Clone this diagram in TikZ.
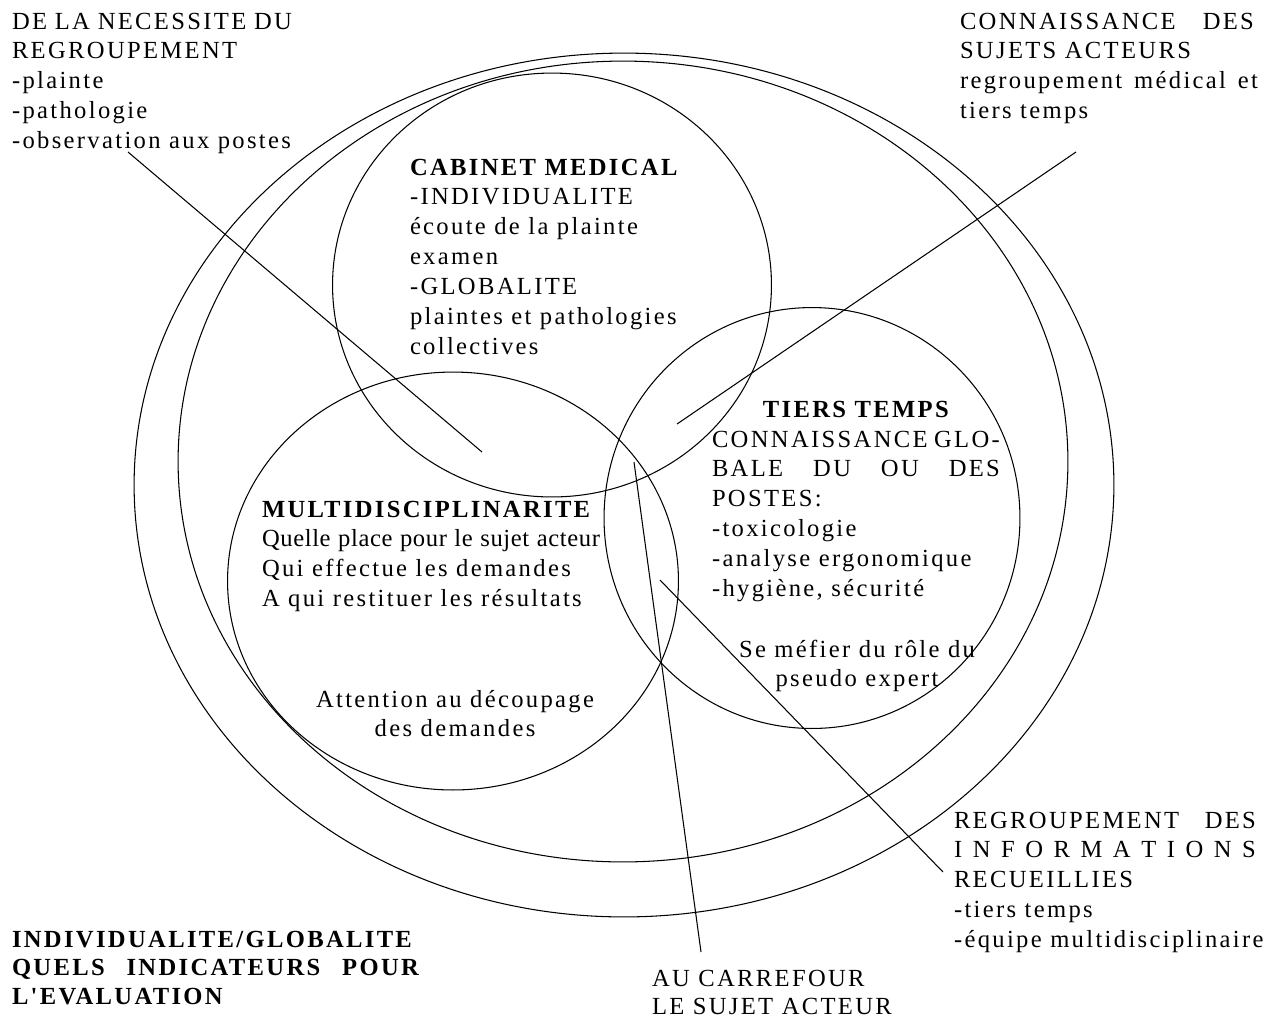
\documentclass[tikz,border=0pt]{standalone}
\usepackage{fontspec}
\setmainfont{Liberation Serif}[LetterSpace=9.5, Ligatures=TeXOff]
\newfontfamily\tightls{Liberation Serif}[LetterSpace=2.5, Ligatures=TeXOff]
\usetikzlibrary{shapes.geometric}
\newcommand\jl[2]{\makebox[#1][s]{#2}}
\begin{document}
\begin{tikzpicture}[x=0.02cm,y=-0.02cm,
  ring/.style={draw, ellipse, inner sep=0pt, outer sep=0pt, line width=0.6pt},
  txt/.style={inner sep=0pt, outer sep=0pt, font=\fontsize{14}{17}\selectfont},
  link/.style={line width=0.6pt}]
\useasboundingbox (0,0) rectangle (1268,1019);
% circles
\node[ring, minimum width=19.6cm, minimum height=17.28cm] (outer) at (624,485) {};
\node[ring, minimum width=17.8cm, minimum height=16.02cm] (inner) at (623,461.5) {};
\node[ring, minimum width=8.78cm, minimum height=8.48cm] (cab) at (552,285) {};
\node[ring, minimum width=9.02cm, minimum height=8.36cm] (multi) at (453,581) {};
\node[ring, minimum width=8.32cm, minimum height=8.42cm] (tiers) at (812,518) {};
% texts
\node[txt, anchor=base west] (necessite) at (12,29) {\parbox[t]{6cm}{\jl{5.6cm}{DE LA NECESSITE DU}\\REGROUPEMENT\\-plainte\\-pathologie\\-observation aux postes}};
\node[txt, anchor=base west] (connaiss) at (960,29) {\parbox[t]{6.1cm}{\jl{5.88cm}{CONNAISSANCE DES}\\SUJETS ACTEURS\\\jl{5.96cm}{regroupement médical et}\\tiers temps}};
\node[txt, anchor=base west] (cabinet) at (410,175) {\parbox[t]{6cm}{\textbf{CABINET MEDICAL}\\-INDIVIDUALITE\\écoute de la plainte\\examen\\-GLOBALITE\\plaintes et pathologies\\collectives}};
\node[txt, anchor=base] (tierstitle) at (857,417) {\textbf{TIERS TEMPS}};
\node[txt, anchor=base west] (tiersbody) at (712,447) {\parbox[t]{6cm}{\jl{5.76cm}{CONNAISSANCE GLO-}\\\jl{5.76cm}{BALE DU OU DES}\\POSTES:\\-toxicologie\\-analyse ergonomique\\-hygiène, sécurité}};
\node[txt, anchor=base] (pseudo) at (857,657) {\parbox[t]{6cm}{\centering Se méfier du rôle du\\pseudo expert}};
\node[txt, anchor=base west] (multitext) at (262,517) {\parbox[t]{7cm}{\textbf{MULTIDISCIPLINARITE}\\{\tightls\jl{6.76cm}{Quelle place pour le sujet acteur}}\\Qui effectue les demandes\\A qui restituer les résultats}};
\node[txt, anchor=base] (attention) at (455,707) {\parbox[t]{6cm}{\centering Attention au découpage\\des demandes}};
\node[txt, anchor=base west] (regroup) at (954,828) {\parbox[t]{6.3cm}{\jl{6.04cm}{REGROUPEMENT DES}\\\jl{6.04cm}{I N F O R M A T I O N S}\\RECUEILLIES\\-tiers temps\\-équipe multidisciplinaire}};
\node[txt, anchor=base west, font=\fontsize{14}{16.4}\selectfont\bfseries] (indiv) at (12,947) {\parbox[t]{9cm}{INDIVIDUALITE/GLOBALITE\\\jl{8.14cm}{QUELS INDICATEURS POUR}\\L'EVALUATION}};
\node[txt, anchor=base west, font=\fontsize{14}{16.4}\selectfont] (carrefour) at (652,986) {\parbox[t]{6cm}{AU CARREFOUR\\LE SUJET ACTEUR}};
% connectors
\coordinate (a1) at (128,152); \coordinate (a2) at (482,452);
\coordinate (b1) at (1076,152); \coordinate (b2) at (677,424);
\coordinate (c1) at (634,462); \coordinate (c2) at (701,952);
\coordinate (d1) at (660,580); \coordinate (d2) at (943,872);
\draw[link] (a1) -- (a2);
\draw[link] (b1) -- (b2);
\draw[link] (c1) -- (c2);
\draw[link] (d1) -- (d2);
\end{tikzpicture}
\end{document}
